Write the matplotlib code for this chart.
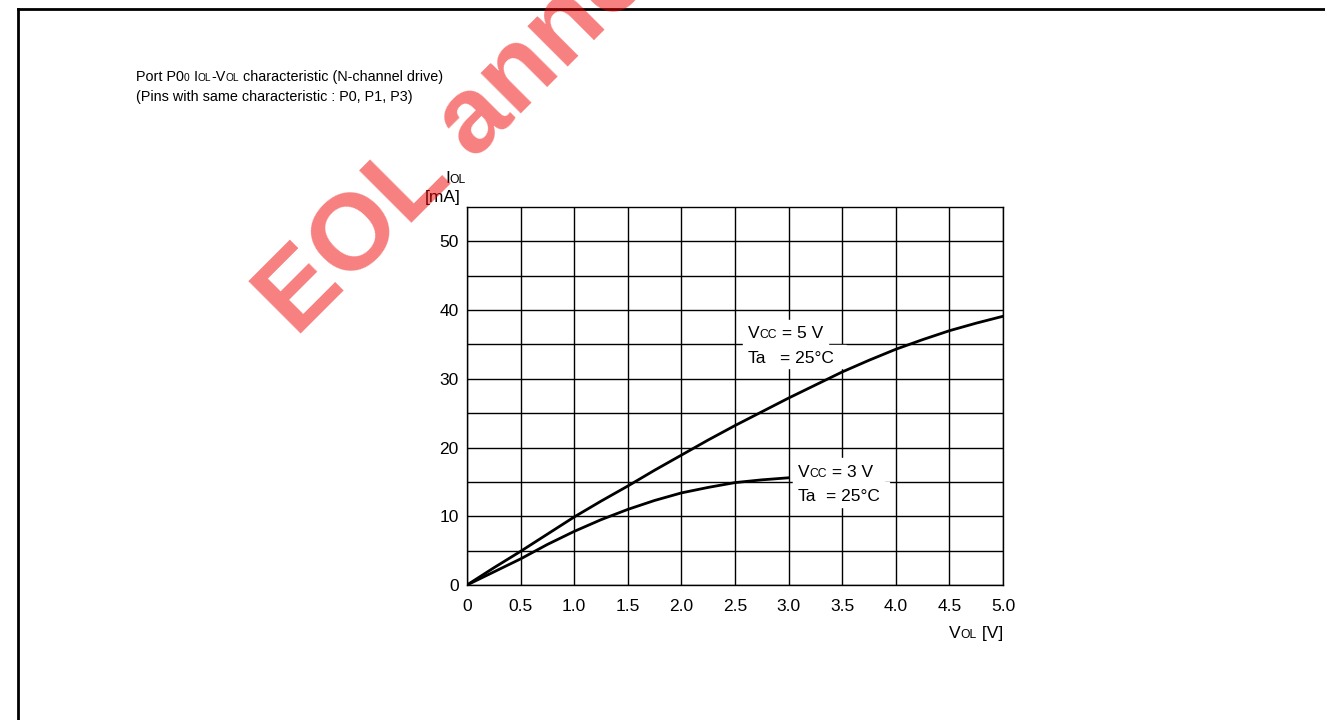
import numpy as np
import matplotlib
matplotlib.use("Agg")
import matplotlib.pyplot as plt
from matplotlib.lines import Line2D
from matplotlib.patches import Rectangle

plt.rcParams['font.family'] = ['Liberation Sans', 'DejaVu Sans']

# data
v_ol_5v = [0, 0.25, 0.5, 0.75, 1.0, 1.25, 1.5, 1.75, 2.0, 2.25, 2.5,
           2.75, 3.0, 3.25, 3.5, 3.75, 4.0, 4.25, 4.5, 4.75, 5.0]
i_ol_5v = [0, 2.5, 4.9, 7.4, 9.9, 12.2, 14.4, 16.7, 18.9, 21.1, 23.2,
           25.2, 27.2, 29.1, 31.0, 32.7, 34.3, 35.7, 37.0, 38.1, 39.1]
v_ol_3v = [0, 0.25, 0.5, 0.75, 1.0, 1.25, 1.5, 1.75, 2.0, 2.25, 2.5, 2.75, 3.0]
i_ol_3v = [0, 1.9, 3.8, 5.9, 7.8, 9.5, 11.0, 12.3, 13.4, 14.2, 14.9, 15.3, 15.6]

x_ticks = [0, 0.5, 1.0, 1.5, 2.0, 2.5, 3.0, 3.5, 4.0, 4.5, 5.0]
x_labels = ['0', '0.5', '1.0', '1.5', '2.0', '2.5', '3.0', '3.5', '4.0', '4.5', '5.0']
y_ticks = [0, 10, 20, 30, 40, 50]
y_minor = [5, 15, 25, 35, 45]

W, H = 1325, 720
FS = 12.5
TITLE_FS = 10.4
SMALL = 0.7


def fx(x):
    return x / W


def fy(y):
    return 1 - y / H


fig = plt.figure(figsize=(W / 100, H / 100), dpi=100)
renderer = fig.canvas.get_renderer()


def rich(x, y, parts, size=FS, ha='left', zorder=6):
    """Draw text made of (string, is_small) parts side by side at pixel x, y
       (baseline). Returns the x where the text ends."""
    texts = []
    cur = x
    for s, small in parts:
        fs = size * (SMALL if small else 1)
        t = fig.text(fx(cur), fy(y), s, fontsize=fs,
                     va='baseline', ha='left', zorder=zorder)
        # measure with guard chars so spaces count
        g = fig.text(0, 0, 'x' + s + 'x', fontsize=fs)
        gx = fig.text(0, 0, 'xx', fontsize=fs)
        w = g.get_window_extent(renderer).width - gx.get_window_extent(renderer).width
        g.remove()
        gx.remove()
        texts.append((t, cur))
        cur += w
    if ha == 'right':
        shift = cur - x
        for t, x0 in texts:
            t.set_x(fx(x0 - shift))
    return cur


# outer frame
fig.add_artist(Line2D([fx(18), fx(18)], [0, fy(9)], color='black', lw=2))
fig.add_artist(Line2D([fx(18), 1], [fy(9), fy(9)], color='black', lw=2))

# watermark
fig.text(fx(296), fy(338), 'EOL announced', fontsize=78, fontweight='bold',
         color='#f00000', alpha=0.5, rotation=45, rotation_mode='anchor',
         ha='left', va='baseline', zorder=10)

# title
rich(136, 81, [('Port P0', False), ('0', True), (' I', False), ('OL', True),
               ('-V', False), ('OL', True), (' characteristic (N-channel drive)', False)],
     size=TITLE_FS)
rich(136, 101, [('(Pins with same characteristic : P0, P1, P3)', False)], size=TITLE_FS)

ax = fig.add_axes([fx(467), fy(585), fx(1003) - fx(467), fy(207) - fy(585)])
ax.plot(v_ol_5v, i_ol_5v, color='black', lw=2, zorder=3)
ax.plot(v_ol_3v, i_ol_3v, color='black', lw=2, zorder=3)
ax.set_xlim(0, 5)
ax.set_ylim(0, 55)
ax.set_xticks(x_ticks)
ax.set_xticklabels(x_labels)
ax.set_yticks(y_ticks)
ax.set_yticks(y_minor, minor=True)
ax.grid(True, which='both', color='black', lw=1)
ax.tick_params(which='both', length=0, labelsize=FS)
ax.tick_params(axis='x', pad=10)
ax.tick_params(axis='y', pad=6)
for s in ax.spines.values():
    s.set_linewidth(1)

# white backgrounds behind the condition labels (drawn above grid, below curves)
boxes = [(743, 320, 828, 346), (743, 345, 846, 368),
         (793, 458, 884, 483), (793, 482, 889, 507)]
for x0, y0, x1, y1 in boxes:
    ax.add_patch(Rectangle((fx(x0), fy(y1)), fx(x1) - fx(x0), fy(y0) - fy(y1),
                           transform=fig.transFigure, color='white', zorder=2))

# axis titles
rich(445, 183, [('I', False), ('OL', True)])
fig.text(fx(461), fy(202), '[mA]', fontsize=FS, ha='right', va='baseline')
rich(1003, 638, [('V', False), ('OL', True), (' [V]', False)], ha='right')

# condition labels
rich(748, 338, [('V', False), ('CC', True), (' = 5 V', False)])
rich(748, 363, [('Ta', False)])
rich(780, 363, [('= 25°C', False)])
rich(798, 477, [('V', False), ('CC', True), (' = 3 V', False)])
rich(798, 501, [('Ta', False)])
rich(826, 501, [('= 25°C', False)])

fig.savefig('out.png', dpi=100)
